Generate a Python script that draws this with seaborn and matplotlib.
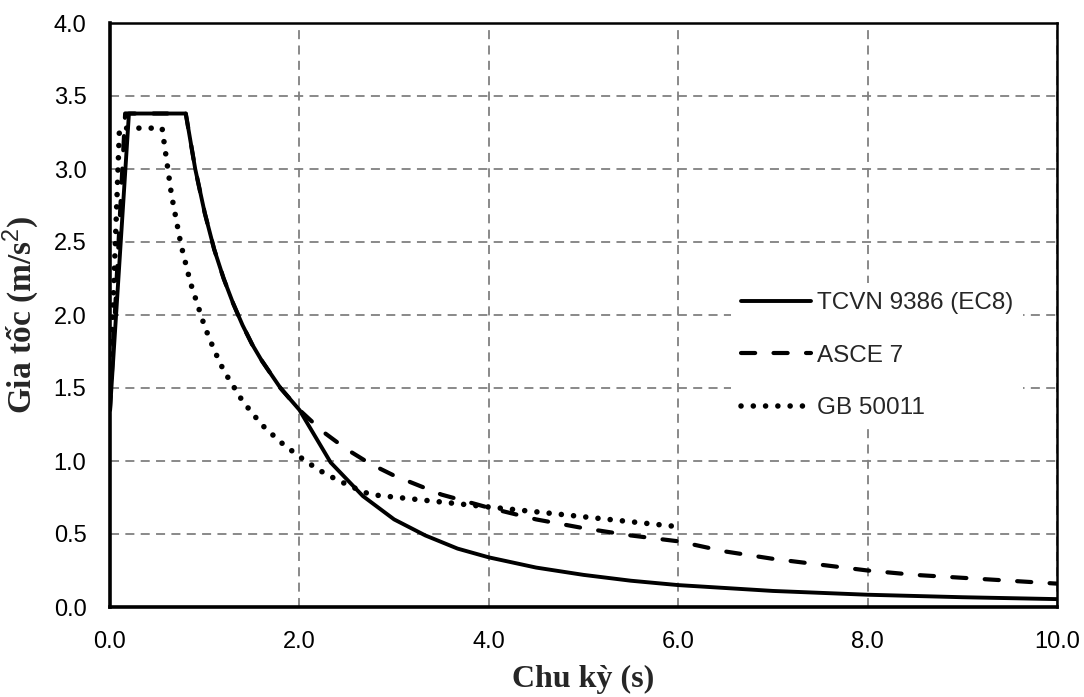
import matplotlib
matplotlib.use("Agg")
import matplotlib.pyplot as plt
import seaborn as sns
import pandas as pd

# ---- data ----
tcvn_T = [0.0, 0.2, 0.8, 0.9, 1.0, 1.1, 1.2, 1.3, 1.4, 1.5, 1.6, 1.8, 2.0,
          2.33, 2.67, 3.0, 3.33, 3.67, 4.0, 4.5, 5.0, 5.5, 6.0, 7.0, 8.0, 9.0, 10.0]
tcvn_S = [1.35, 3.38, 3.38, 3.00, 2.70, 2.45, 2.25, 2.08, 1.93, 1.80, 1.69, 1.50, 1.35,
          0.99, 0.76, 0.60, 0.49, 0.40, 0.34, 0.27, 0.22, 0.18, 0.15, 0.11, 0.084, 0.067, 0.054]

asce_T = [0.0, 0.16, 0.8, 0.9, 1.0, 1.1, 1.2, 1.3, 1.4, 1.5, 1.6, 1.8, 2.0, 2.25, 2.5,
          2.75, 3.0, 3.5, 4.0, 4.5, 5.0, 5.5, 6.0, 6.5, 7.0, 7.5, 8.0, 8.5, 9.0, 9.5, 10.0]
asce_S = [1.35, 3.38, 3.38, 3.00, 2.70, 2.45, 2.25, 2.08, 1.93, 1.80, 1.69, 1.50, 1.35, 1.20, 1.08,
          0.98, 0.90, 0.77, 0.68, 0.60, 0.54, 0.49, 0.45, 0.38, 0.33, 0.29, 0.25, 0.22, 0.20, 0.18, 0.16]

gb_T = [0.0, 0.1, 0.55, 0.65, 0.75, 0.85, 1.0, 1.1, 1.2, 1.4, 1.6, 1.8, 2.0, 2.2, 2.4,
        2.6, 2.75, 3.0, 3.5, 4.0, 4.5, 5.0, 5.5, 6.0]
gb_S = [1.48, 3.28, 3.28, 2.82, 2.48, 2.22, 1.92, 1.76, 1.62, 1.41, 1.25, 1.13, 1.03, 0.94, 0.87,
        0.81, 0.77, 0.753, 0.719, 0.685, 0.652, 0.618, 0.584, 0.55]

series_names = ["TCVN 9386 (EC8)", "ASCE 7", "GB 50011"]
x_ticks = [0, 2, 4, 6, 8, 10]
x_tick_labels = ["0.0", "2.0", "4.0", "6.0", "8.0", "10.0"]
y_ticks = [0.0, 0.5, 1.0, 1.5, 2.0, 2.5, 3.0, 3.5, 4.0]
y_tick_labels = ["0.0", "0.5", "1.0", "1.5", "2.0", "2.5", "3.0", "3.5", "4.0"]
x_label = "Chu kỳ (s)"
y_label = "Gia tốc (m/s$^{2}$)"

# ---- styling ----
sns.set_style("white")
plt.rcParams["font.family"] = ["Liberation Sans", "DejaVu Sans"]
plt.rcParams["mathtext.fontset"] = "custom"
plt.rcParams["mathtext.rm"] = "Liberation Sans"
plt.rcParams["mathtext.it"] = "Liberation Sans"
plt.rcParams["mathtext.bf"] = "Liberation Sans"

fig = plt.figure(figsize=(10.84, 6.97), dpi=100)
ax = fig.add_axes([110 / 1084, 1 - 607 / 697, 947 / 1084, 584 / 697])

df_tcvn = pd.DataFrame({"T": tcvn_T, "S": tcvn_S})
df_asce = pd.DataFrame({"T": asce_T, "S": asce_S})
df_gb = pd.DataFrame({"T": gb_T, "S": gb_S})

sns.lineplot(data=df_tcvn, x="T", y="S", ax=ax, color="black", lw=2.8,
             label=series_names[0], sort=False, estimator=None)
sns.lineplot(data=df_asce, x="T", y="S", ax=ax, color="black", lw=3.0,
             label=series_names[1], sort=False, estimator=None)
sns.lineplot(data=df_gb, x="T", y="S", ax=ax, color="black", lw=4.0,
             label=series_names[2], sort=False, estimator=None)

lines = ax.get_lines()
lines[0].set_linestyle("-")
lines[0].set_solid_joinstyle("round")
lines[1].set_linestyle((0, (3.4, 4.4)))
lines[1].set_dash_capstyle("round")
lines[2].set_linestyle((0, (0.01, 2.2)))
lines[2].set_dash_capstyle("round")
lines[0].set_zorder(4)
lines[1].set_zorder(3)
lines[2].set_zorder(3)

ax.set_xlim(0, 10)
ax.set_ylim(0, 4)
ax.set_xticks(x_ticks)
ax.set_xticklabels(x_tick_labels)
ax.set_yticks(y_ticks)
ax.set_yticklabels(y_tick_labels)
ax.tick_params(axis="both", length=0, labelsize=17, pad=17, colors="black")

ax.grid(True, color="#808080", linestyle=(0, (5, 3.5)), linewidth=1.3)
ax.set_axisbelow(True)

for side, w in [("left", 2.6), ("bottom", 2.6), ("top", 1.8), ("right", 1.8)]:
    ax.spines[side].set_visible(True)
    ax.spines[side].set_color("black")
    ax.spines[side].set_linewidth(w)

ax.set_xlabel(x_label, family=["Liberation Serif", "DejaVu Serif"], fontweight="bold",
              fontsize=23, labelpad=9)
ax.set_ylabel(y_label, family=["Liberation Serif", "DejaVu Serif"], fontweight="bold",
              fontsize=24, labelpad=9)

leg = ax.legend(loc="center left", bbox_to_anchor=(0.643, 0.43), fontsize=17.5,
                frameon=True, facecolor="white", edgecolor="none", framealpha=1.0,
                handlelength=2.9, handletextpad=0.25, labelspacing=1.25, borderpad=0.4,
                fancybox=False)
leg.set_zorder(5)

fig.savefig("out.png", dpi=100)
